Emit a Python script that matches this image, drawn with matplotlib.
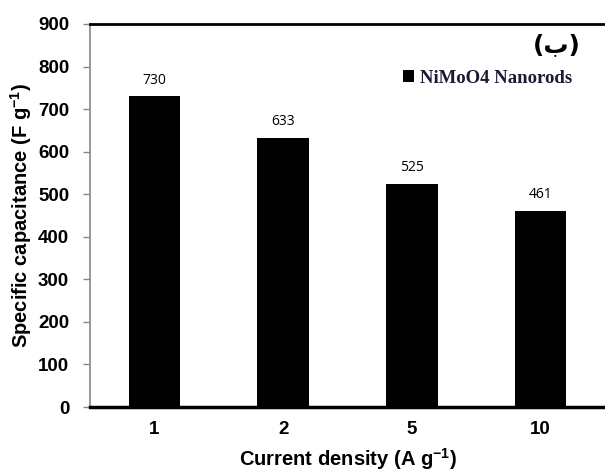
import matplotlib.pyplot as plt
import numpy as np

densities = ["1", "2", "5", "10"]
capacitance = [730, 633, 525, 461]
yticks = [0, 100, 200, 300, 400, 500, 600, 700, 800, 900]

plt.rcParams["mathtext.fontset"] = "custom"
plt.rcParams["mathtext.rm"] = "Liberation Sans:bold"
plt.rcParams["mathtext.bf"] = "Liberation Sans:bold"
plt.rcParams["mathtext.it"] = "Liberation Sans:bold"

fig = plt.figure(figsize=(6.05, 4.76), dpi=100)
ax = fig.add_axes([90 / 605, 1 - 407 / 476, 515 / 605, 383 / 476])

x = np.arange(len(densities))
ax.bar(x, capacitance, width=0.4, color="black", label="NiMoO4 Nanorods", zorder=3)
for xi, v in zip(x, capacitance):
    ax.annotate(f"{v}", (xi, v), xytext=(0, 6), textcoords="offset points",
                ha="center", va="bottom", fontsize=10, family="Open Sans")

ax.set_xlim(-0.5, 3.5)
ax.set_ylim(0, 900)
ax.set_xticks(x)
ax.set_xticklabels(densities)
ax.set_yticks(yticks)
for lab in ax.get_xticklabels() + ax.get_yticklabels():
    lab.set_fontweight("bold")
    lab.set_fontsize(13.5)
    lab.set_family("Liberation Sans")

ax.tick_params(axis="x", length=0, pad=10)
ax.tick_params(axis="y", length=5, width=1, color="#888888", pad=10)

ax.spines["right"].set_visible(False)
ax.spines["top"].set_linewidth(2)
ax.spines["bottom"].set_linewidth(2.5)
ax.spines["left"].set_color("#888888")
ax.spines["left"].set_linewidth(1.2)

ax.set_xlabel("Current density (A g$^{-1}$)", fontsize=14.5, fontweight="bold",
              family="Liberation Sans", labelpad=6)
ax.set_ylabel("Specific capacitance (F g$^{-1}$)", fontsize=14.5, fontweight="bold",
              family="Liberation Sans", labelpad=3)

ax.text(0.907, 0.945, "(ب)", transform=ax.transAxes, ha="center", va="center",
        fontsize=18, fontweight="bold", family="DejaVu Sans")

leg = ax.legend(loc="center right", bbox_to_anchor=(0.936, 0.859), frameon=False,
                borderpad=0, borderaxespad=0,
                handlelength=0.6, handleheight=0.6, handletextpad=0.3,
                prop={"family": "Liberation Serif", "weight": "bold", "size": 13.5})
for t in leg.get_texts():
    t.set_color("#1a1a33")

fig.savefig("out.png", dpi=100)
